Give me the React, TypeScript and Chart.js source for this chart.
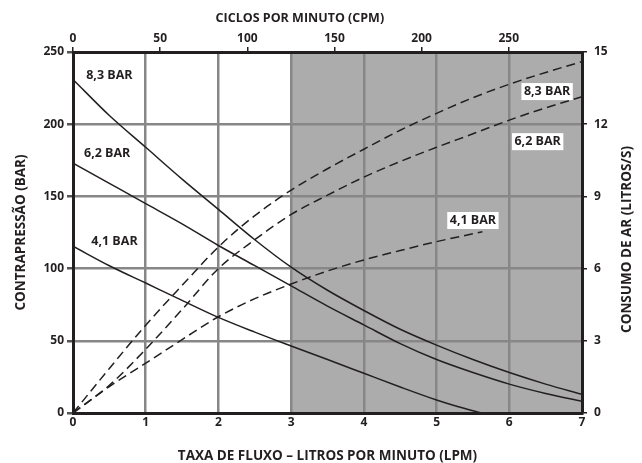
import React, { useEffect, useRef } from 'react';
import { Chart, registerables } from 'chart.js';

Chart.register(...registerables);

// ---- data ----
const flowLPM = [0, 0.5, 1, 1.5, 2, 2.5, 3, 3.5, 4, 4.5, 5, 5.5, 6, 6.5, 7];
const back83 = [231, 206, 184, 162, 141, 120, 101, 85, 71, 58, 47, 37, 28, 20, 13];
const back62 = [173, 159, 145, 131, 116, 102, 88, 74, 61, 48, 37, 28, 20, 13.5, 8];
const flowBack41 = [0, 0.5, 1, 1.5, 2, 2.5, 3, 3.5, 4, 4.5, 5, 5.3, 5.62];
const back41 = [115.5, 102, 90, 78, 66.2, 56, 46.4, 37, 27.5, 18, 9, 4.3, 0];
const air83 = [0, 1.85, 3.65, 5.3, 6.9, 8.2, 9.26, 10.15, 10.96, 11.75, 12.45, 13.1, 13.66, 14.15, 14.6];
const air62 = [0, 1.15, 2.65, 4.3, 6.0, 7.2, 8.25, 9.05, 9.8, 10.45, 11.04, 11.6, 12.17, 12.68, 13.14];
const flowAir41 = [0, 0.5, 1, 1.5, 2, 2.5, 3, 3.5, 4, 4.5, 5, 5.63];
const air41 = [0, 1.1, 2.07, 3.05, 4.0, 4.75, 5.36, 5.9, 6.36, 6.75, 7.12, 7.53];

const xMin = 0, xMax = 7, xStep = 1;
const yMin = 0, yMax = 250, yStep = 50;
const rMin = 0, rMax = 15, rStep = 3;
const cpmMax = 292, cpmStep = 50;
const shadeFromLPM = 3;

const TITLE_X = 'TAXA DE FLUXO – LITROS POR MINUTO (LPM)';
const TITLE_TOP = 'CICLOS POR MINUTO (CPM)';
const TITLE_Y = 'CONTRAPRESSÃO (BAR)';
const TITLE_R = 'CONSUMO DE AR (LITROS/S)';

// curve labels: [text, LPM, BAR, boxed]
const curveLabels: [string, number, number, boolean][] = [
  ['8,3 BAR', 0.5, 234, false],
  ['6,2 BAR', 0.47, 179.5, false],
  ['4,1 BAR', 0.57, 118.6, false],
  ['8,3 BAR', 6.52, 222.6, true],
  ['6,2 BAR', 6.39, 187.9, true],
  ['4,1 BAR', 5.5, 133.3, true],
];

const INK = '#231f20';
const GRID = '#878787';
const SHADE = '#acacac';
const FAMILY = '"Open Sans", "DejaVu Sans", sans-serif';

const pts = (xs: number[], ys: number[]) => xs.map((x, i) => ({ x, y: ys[i] }));

export default function App() {
  const ref = useRef<HTMLCanvasElement>(null);

  useEffect(() => {
    if (!ref.current) return;
    const tickFont = { family: FAMILY, size: 12, weight: 'bold' as const };
    const titleFont = { family: FAMILY, size: 13.5, weight: 'bold' as const };

    const shadePlugin = {
      id: 'shade',
      beforeDraw(chart: any) {
        const { ctx, chartArea, scales } = chart;
        const x0 = scales.x.getPixelForValue(shadeFromLPM);
        ctx.save();
        ctx.fillStyle = SHADE;
        ctx.fillRect(x0, chartArea.top, chartArea.right - x0, chartArea.bottom - chartArea.top);
        ctx.restore();
      },
    };

    const labelPlugin = {
      id: 'labels',
      afterDatasetsDraw(chart: any) {
        const { ctx, scales } = chart;
        ctx.save();
        ctx.font = `bold 12.5px ${FAMILY}`;
        ctx.textAlign = 'center';
        ctx.textBaseline = 'middle';
        for (const [text, lx, ly, boxed] of curveLabels) {
          const px = scales.x.getPixelForValue(lx);
          const py = scales.y.getPixelForValue(ly);
          if (boxed) {
            const w = ctx.measureText(text).width + 5;
            ctx.fillStyle = '#ffffff';
            ctx.fillRect(px - w / 2, py - 8.5, w, 17);
          }
          ctx.fillStyle = INK;
          ctx.fillText(text, px, py);
        }
        ctx.restore();
      },
      afterDraw(chart: any) {
        const { ctx, scales, chartArea } = chart;
        ctx.save();
        ctx.fillStyle = INK;
        ctx.textAlign = 'center';
        ctx.textBaseline = 'middle';
        ctx.font = `bold 12.5px ${FAMILY}`;
        ctx.fillText(TITLE_TOP, scales.x.getPixelForValue(3.12), 18.5);
        // right axis title, reading bottom-to-top
        ctx.font = `bold 13.5px ${FAMILY}`;
        const cx = scales.yRight.right - 14.5;
        const cy = (chartArea.top + chartArea.bottom) / 2 + 7;
        ctx.translate(cx, cy);
        ctx.rotate(-Math.PI / 2);
        ctx.fillText(TITLE_R, 0, 0);
        ctx.restore();
      },
    };

    const solid = (data: any[]) => ({
      data,
      yAxisID: 'y',
      borderColor: INK,
      borderWidth: 1.5,
      pointRadius: 0,
      fill: false,
      cubicInterpolationMode: 'monotone' as const,
    });
    const dashed = (data: any[]) => ({
      data,
      yAxisID: 'yRight',
      borderColor: INK,
      borderWidth: 1.5,
      borderDash: [9, 5],
      pointRadius: 0,
      fill: false,
      cubicInterpolationMode: 'monotone' as const,
    });

    const chart = new Chart(ref.current, {
      type: 'line',
      data: {
        datasets: [
          solid(pts(flowLPM, back83)),
          solid(pts(flowLPM, back62)),
          solid(pts(flowBack41, back41)),
          dashed(pts(flowLPM, air83)),
          dashed(pts(flowLPM, air62)),
          dashed(pts(flowAir41, air41)),
        ],
      },
      options: {
        responsive: false,
        animation: false,
        devicePixelRatio: 1,
        layout: { padding: 0 },
        plugins: {
          legend: { display: false },
          tooltip: { enabled: false },
        },
        scales: {
          x: {
            type: 'linear',
            position: 'bottom',
            min: xMin,
            max: xMax,
            ticks: { stepSize: xStep, color: INK, font: tickFont, padding: 2, maxRotation: 0, autoSkip: false },
            grid: { color: GRID, lineWidth: 2.5, drawTicks: false },
            border: { color: INK, width: 3 },
            title: { display: true, text: TITLE_X, color: INK, font: titleFont, padding: { top: 0, bottom: -1 } },
            afterFit: (s: any) => { s.height = 50; },
          },
          xTop: {
            type: 'linear',
            position: 'top',
            min: 0,
            max: cpmMax,
            ticks: { stepSize: cpmStep, includeBounds: false, color: INK, font: tickFont, padding: 1, maxRotation: 0, autoSkip: false },
            grid: { drawOnChartArea: false, color: INK, tickColor: INK, lineWidth: 1.5, tickLength: 5 },
            border: { color: INK, width: 3 },
            afterFit: (s: any) => { s.height = 52; },
          },
          y: {
            type: 'linear',
            position: 'left',
            min: yMin,
            max: yMax,
            ticks: { stepSize: yStep, color: INK, font: tickFont, padding: 3 },
            grid: { color: GRID, tickColor: '#555555', lineWidth: 2.5, tickLength: 6 },
            border: { color: INK, width: 3 },
            title: { display: true, text: TITLE_Y, color: INK, font: titleFont, padding: { top: 13, bottom: 0 } },
            afterFit: (s: any) => { s.width = 73; },
          },
          yRight: {
            type: 'linear',
            position: 'right',
            min: rMin,
            max: rMax,
            ticks: { stepSize: rStep, color: INK, font: tickFont, padding: 7 },
            grid: { drawOnChartArea: false, color: INK, tickColor: INK, lineWidth: 1.5, tickLength: 5 },
            border: { color: INK, width: 3 },
            afterFit: (s: any) => { s.width = 60; },
          },
        },
      } as any,
      plugins: [shadePlugin, labelPlugin],
    });

    return () => chart.destroy();
  }, []);

  return (
    <div style={{ position: 'fixed', left: 0, top: 0, width: 642, height: 463, background: '#ffffff' }}>
      <canvas ref={ref} width={642} height={463} style={{ width: 642, height: 463, display: 'block' }} />
    </div>
  );
}
